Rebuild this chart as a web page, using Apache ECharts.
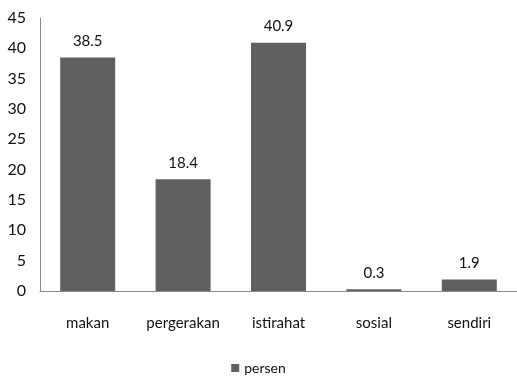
<!DOCTYPE html>
<html>
<head>
<meta charset="utf-8">
<script src="https://cdn.jsdelivr.net/npm/echarts@6/dist/echarts.min.js"></script>
<style>
    html, body { margin: 0; padding: 0; background: #fff; }
    #chart { width: 517px; height: 378px; }
</style>
</head>
<body>
<div id="chart"></div>
<script>
    // kategori dan nilai
    var categories = ['makan', 'pergerakan', 'istirahat', 'sosial', 'sendiri']
    var persen = [38.5, 18.4, 40.9, 0.3, 1.9]
    var yTicks = [0, 5, 10, 15, 20, 25, 30, 35, 40, 45]

    var chart = echarts.init(document.getElementById('chart'))
    chart.setOption({
        animation: false,
        color: ['#606060'],
        textStyle: {
            fontFamily: 'Lato'
        },
        grid: {
            left: 40,
            right: 0,
            top: 18,
            bottom: 87
        },
        legend: {
            bottom: -2,
            left: 'center',
            itemWidth: 8,
            itemHeight: 8,
            itemGap: 3,
            icon: 'rect',
            textStyle: {
                fontSize: 14,
                color: '#111',
                fontFamily: 'Lato'
            },
            data: ['persen']
        },
        xAxis: {
            type: 'category',
            data: categories,
            axisLine: { lineStyle: { color: '#8a8a8a' } },
            axisTick: { show: false },
            axisLabel: {
                color: '#111',
                fontSize: 15,
                margin: 25,
                interval: 0,
                hideOverlap: false
            }
        },
        yAxis: {
            type: 'value',
            min: yTicks[0],
            max: yTicks[yTicks.length - 1],
            interval: 5,
            splitLine: { show: false },
            axisLine: { show: true, lineStyle: { color: '#8a8a8a' } },
            axisTick: { show: false },
            axisLabel: {
                color: '#111',
                fontSize: 16,
                margin: 14
            }
        },
        series: [
            {
                name: 'persen',
                type: 'bar',
                barWidth: 55,
                data: persen,
                label: {
                    show: true,
                    position: 'top',
                    distance: 9,
                    color: '#111',
                    fontSize: 15
                }
            }
        ]
    })
</script>
</body>
</html>
